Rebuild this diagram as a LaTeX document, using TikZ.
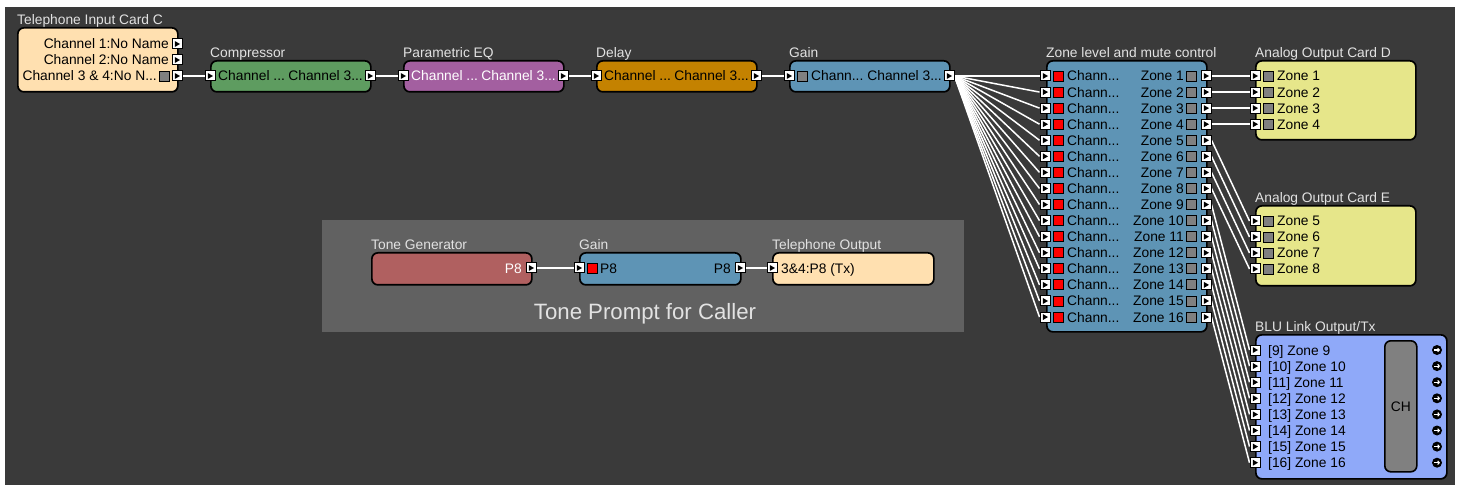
\documentclass[tikz,border=0pt]{standalone}
\usepackage{fontspec}
\setmainfont{Liberation Sans}
\usetikzlibrary{arrows.meta}

\definecolor{canvas}{HTML}{3A3A3A}
\definecolor{grouparea}{HTML}{616161}
\definecolor{peach}{HTML}{FFE0B0}
\definecolor{compgreen}{HTML}{5E9C60}
\definecolor{eqpurple}{HTML}{A35FA0}
\definecolor{delayorange}{HTML}{C48200}
\definecolor{steel}{HTML}{5E94B5}
\definecolor{cardyellow}{HTML}{E6E68A}
\definecolor{blulink}{HTML}{8FA9F9}
\definecolor{tonered}{HTML}{B06060}
\definecolor{meter}{HTML}{808080}
\definecolor{titletext}{HTML}{E2E2E2}

\pgfdeclarelayer{back}
\pgfdeclarelayer{wires}
\pgfsetlayers{back,wires,main}

\tikzset{
  box/.style={rectangle, draw=black, line width=1.7pt, rounded corners=6pt,
    inner sep=0pt, anchor=north west},
  blocktitle/.style={anchor=base west, inner sep=0pt, text=titletext},
  port/.style={rectangle, draw=black, fill=white, line width=1pt,
    minimum size=10pt, inner sep=0pt},
  sqred/.style={rectangle, draw=black, fill=red, line width=0.9pt,
    minimum size=10pt, inner sep=0pt},
  sqgray/.style={rectangle, draw=black, fill=meter, line width=0.9pt,
    minimum size=10pt, inner sep=0pt},
  lblw/.style={anchor=base west, inner sep=0pt},
  lble/.style={anchor=base east, inner sep=0pt},
  wire/.style={draw=white, line width=1.5pt},
  outdot/.style={circle, fill=black, minimum size=10pt, inner sep=0pt},
}

% block: name, x1, y1, x2, y2, fill, title
\newcommand{\blk}[7]{%
  \node[box, fill=#6, minimum width={#4-#2}, minimum height={#5-#3}] (#1) at (#2,#3) {};
  \node[blocktitle] (#1-title) at ([yshift=2.6pt]#1.north west) {#7};
}
% port square with a right-pointing triangle: name, x, y
\newcommand{\portat}[3]{%
  \node[port] (#1) at (#2,#3) {};
  \fill[black] ([xshift=-2.2pt,yshift=3pt]#1.center) -- ([xshift=3pt]#1.center)
    -- ([xshift=-2.2pt,yshift=-3pt]#1.center) -- cycle;
}

\begin{document}
\begin{tikzpicture}[x=1pt, y=-1pt, font=\fontsize{13.8}{16}\selectfont]

% page and work area
\begin{pgfonlayer}{back}
  \fill[white] (0,0) rectangle (1460,489);
  \fill[canvas] (5,7) rectangle (1455,485);
  \fill[grouparea] (322,220) rectangle (964,332);
\end{pgfonlayer}

% ---------- telephone input ----------
\blk{tic}{17}{27}{177}{91}{peach}{Telephone Input Card C}
\node[lble] (tic-l1) at (169,49) {Channel 1:No Name};
\node[lble] (tic-l2) at (169,65) {Channel 2:No Name};
\node[lble] (tic-l3) at (157,81) {Channel 3 \& 4:No N...};
\node[sqgray] (tic-m3) at (164,76) {};
\portat{ticout1}{177}{44}
\portat{ticout2}{177}{60}
\portat{ticout3}{177}{76}

% ---------- processing chain ----------
\blk{comp}{210}{60}{370}{91}{compgreen}{Compressor}
\portat{compin}{210}{76}
\portat{compout}{370}{76}
\node[lblw] (comp-a) at (218,81) {Channel ...};
\node[lble] (comp-b) at (363,81) {Channel 3...};

\blk{peq}{403}{60}{563}{91}{eqpurple}{Parametric EQ}
\portat{peqin}{403}{76}
\portat{peqout}{563}{76}
\node[lblw, text=white] (peq-a) at (411,81) {Channel ...};
\node[lble, text=white] (peq-b) at (556,81) {Channel 3...};

\blk{dly}{596}{60}{756}{91}{delayorange}{Delay}
\portat{dlyin}{596}{76}
\portat{dlyout}{756}{76}
\node[lblw] (dly-a) at (604,81) {Channel ...};
\node[lble] (dly-b) at (749,81) {Channel 3...};

\blk{gain}{789}{60}{949}{91}{steel}{Gain}
\portat{gainin}{789}{76}
\node[sqgray] (gain-m) at (802,76) {};
\portat{gainout}{949}{76}
\node[lblw] (gain-a) at (811,81) {Chann...};
\node[lble] (gain-b) at (942,81) {Channel 3...};

% ---------- zone level and mute ----------
\blk{zone}{1046}{60}{1206}{331}{steel}{Zone level and mute control}
\foreach \i in {1,...,16}{
  \pgfmathsetmacro{\yy}{76+16.07*(\i-1)}
  \portat{zin\i}{1045}{\yy}
  \node[sqred] (zmute\i) at (1058.5,\yy) {};
  \node[lblw] (zch\i) at (1067,\yy+5) {Chann...};
  \node[lble] (zname\i) at (1184,\yy+5) {Zone \i};
  \node[sqgray] (zmeter\i) at (1191.5,\yy) {};
  \portat{zout\i}{1206}{\yy}
}

% ---------- analog output cards ----------
\blk{cardd}{1255}{60}{1415}{139}{cardyellow}{Analog Output Card D}
\foreach \i in {1,...,4}{
  \pgfmathsetmacro{\yy}{76+16.07*(\i-1)}
  \portat{din\i}{1255}{\yy}
  \node[sqgray] (dm\i) at (1268,\yy) {};
  \node[lblw] (dl\i) at (1277,\yy+5) {Zone \i};
}

\blk{carde}{1255}{205}{1415}{285}{cardyellow}{Analog Output Card E}
\foreach \i [evaluate=\i as \z using int(\i+4)] in {1,...,4}{
  \pgfmathsetmacro{\yy}{221+16*(\i-1)}
  \portat{ein\i}{1255}{\yy}
  \node[sqgray] (em\i) at (1268,\yy) {};
  \node[lblw] (el\i) at (1277,\yy+5) {Zone \z};
}

% ---------- BLU link output ----------
\blk{blu}{1255}{334}{1446}{478}{blulink}{BLU Link Output/Tx}
\node[box, fill=meter, minimum width=32pt, minimum height=131pt, line width=1.6pt] (ch) at (1384,340) {};
\node (ch-l) at (ch.center) {CH};
\foreach \i [evaluate=\i as \z using int(\i+8)] in {1,...,8}{
  \pgfmathsetmacro{\yy}{350+16.1*(\i-1)}
  \portat{bin\i}{1255}{\yy}
  \node[lblw] (bl\i) at (1268,\yy+5) {[\z] Zone \z};
  \node[outdot] (bout\i) at (1437,\yy) {};
  \draw[white, line width=1.1pt, -{Straight Barb[length=1.6pt,width=3.6pt]}]
    ([xshift=-3pt]bout\i.center) -- ([xshift=3pt]bout\i.center);
}

% ---------- tone prompt group ----------
\node[text=titletext, font=\fontsize{22.2}{26}\selectfont] (tone-caption) at (645,314) {Tone Prompt for Caller};

\blk{tg}{371}{252}{531}{284}{tonered}{Tone Generator}
\node[lble, text=white] (tg-l) at (522,273) {P8};
\portat{tgout}{531}{268}

\blk{gtwo}{579}{252}{740}{284}{steel}{Gain}
\portat{gtwoin}{579}{268}
\node[sqred] (gtwo-m) at (592,268) {};
\node[lblw] (gtwo-a) at (600,273) {P8};
\node[lble] (gtwo-b) at (731,273) {P8};
\portat{gtwoout}{740}{268}

\blk{tout}{772}{252}{933}{284}{peach}{Telephone Output}
\portat{toutin}{772}{268}
\node[lblw] (tout-l) at (781,273) {3\&4:P8 (Tx)};

% ---------- connectors ----------
\begin{pgfonlayer}{wires}
  \draw[wire] (ticout3.east) -- (compin.west);
  \draw[wire] (compout.east) -- (peqin.west);
  \draw[wire] (peqout.east) -- (dlyin.west);
  \draw[wire] (dlyout.east) -- (gainin.west);
  \foreach \i in {1,...,16}{
    \draw[wire] (gainout.east) -- (zin\i.west);
  }
  \foreach \i in {1,...,4}{
    \draw[wire] (zout\i.east) -- (din\i.west);
  }
  \foreach \i [evaluate=\i as \z using int(\i+4)] in {1,...,4}{
    \draw[wire] (zout\z.east) -- (ein\i.west);
  }
  \foreach \i [evaluate=\i as \z using int(\i+8)] in {1,...,8}{
    \draw[wire] (zout\z.east) -- (bin\i.west);
  }
  \draw[wire] (tgout.east) -- (gtwoin.west);
  \draw[wire] (gtwoout.east) -- (toutin.west);
\end{pgfonlayer}

\end{tikzpicture}
\end{document}
